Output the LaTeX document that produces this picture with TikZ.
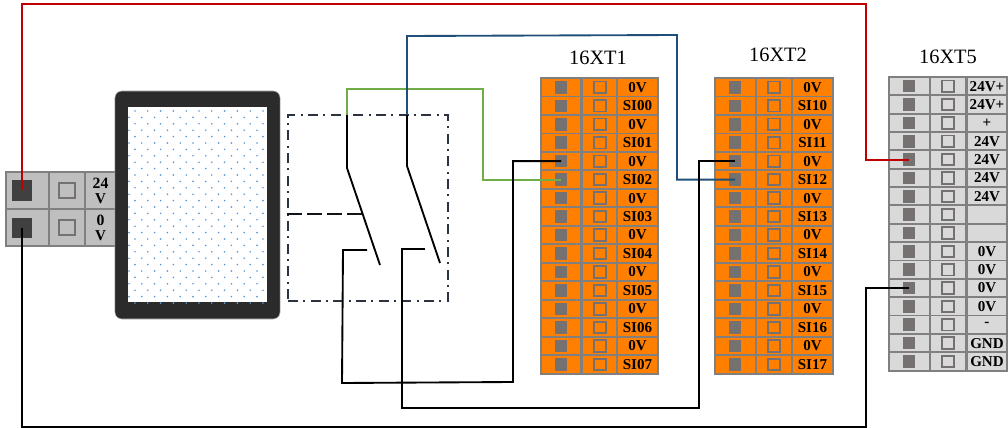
\documentclass[tikz,border=0pt]{standalone}
\usepackage{fontspec}
\setmainfont{Liberation Serif}
\definecolor{termorange}{HTML}{FF8000}
\definecolor{termgrey}{HTML}{D9D9D9}
\definecolor{powergrey}{HTML}{BFBFBF}
\definecolor{gridgrey}{HTML}{808080}
\definecolor{pingrey}{HTML}{767171}
\definecolor{pindark}{HTML}{404040}
\definecolor{framedark}{HTML}{2B2B2B}
\definecolor{dotblue}{HTML}{5B9BD5}
\definecolor{wirered}{HTML}{C00000}
\definecolor{wiregreen}{HTML}{70AD47}
\definecolor{wireblue}{HTML}{1F4E79}
\definecolor{boxdark}{HTML}{2B3340}
\begin{document}
\begin{tikzpicture}[
    x=0.75pt, y=-0.75pt,
    cell/.style={rectangle, draw=gridgrey, line width=1.4pt, inner sep=0pt, minimum height=13.9pt, font=\fontsize{11.3}{11.3}\selectfont\bfseries},
    wide/.style={cell, minimum width=30.4pt},
    narrow/.style={cell, minimum width=27pt},
    pin/.style={rectangle, fill=pingrey, inner sep=0pt, minimum size=9.4pt},
    hole/.style={rectangle, draw=pingrey, line width=1.4pt, inner sep=0pt, minimum size=8.6pt},
    title/.style={font=\fontsize{15.3}{15.3}\selectfont, inner sep=0pt},
    wire/.style={line width=1.4pt, line join=miter},
    swbox/.style={rectangle, draw=boxdark, line width=1.3pt, minimum width=120pt, minimum height=139.5pt, inner sep=0pt, dash pattern=on 7.5pt off 4pt on 1.5pt off 4pt}
]
    \useasboundingbox (0,0) rectangle (1008,428);

    % Power terminal
    \foreach \i/\y/\lab in {1/190.5/24\\V, 2/227.5/0\\V} {
        \node[cell, fill=powergrey, minimum width=32.2pt, minimum height=27.6pt] (pwrcellA\i) at (27.5,\y) {};
        \node[cell, fill=powergrey, minimum width=27pt, minimum height=27.6pt] (pwrcellB\i) at (67,\y) {};
        \node[cell, fill=powergrey, minimum width=23.2pt, minimum height=27.6pt, align=center] (pwrcellC\i) at (100.5,\y) {\fontsize{11.8}{13}\selectfont\bfseries\lab};
        \node[rectangle, fill=pindark, inner sep=0pt, minimum size=15pt] (pwrpin\i) at (22,\y) {};
        \node[hole, minimum size=11.5pt] (pwrhole\i) at (67,\y) {};
    }

    % HMI screen
    \node[rectangle, rounded corners=5pt, fill=framedark, draw=gridgrey!50, minimum width=123.8pt, minimum height=171pt, inner sep=0pt] (hmi) at (197.5,205) {};
    \node[rectangle, fill=white, minimum width=104.2pt, minimum height=146.2pt, inner sep=0pt] (screen) at (197.5,204.5) {};
    \foreach \r in {0,2,...,30}
        \foreach \c in {0,...,10}
            \fill[dotblue] (135+12.8*\c,111+6.4*\r) circle (0.7pt);
    \foreach \r in {1,3,...,29}
        \foreach \c in {0,...,10}
            \fill[dotblue] (129+12.8*\c,111+6.4*\r) circle (0.7pt);

    % Switches
    \node[swbox] (switchbox) at (368,208) {};
    \coordinate (swAtop) at (347,115);
    \coordinate (swBtop) at (407,115);
    \coordinate (swAknee) at (347,168);
    \coordinate (swBknee) at (407,166);
    \coordinate (swAend) at (380,265);
    \coordinate (swBend) at (440,263);
    \coordinate (swAcontact) at (367,250);
    \coordinate (swBcontact) at (425,249);
    \coordinate (swlink) at (362,214);
    \draw[wire] (swAtop) -- (swAknee) -- (swAend);
    \draw[wire] (swBtop) -- (swBknee) -- (swBend);
    \draw[wire, boxdark!40!black, dash pattern=on 11pt off 4pt] (swlink -| switchbox.west) -- (swlink);

    % 16XT1
    \node[title] (xtAtitle) at (598,58) {16XT1};
    \foreach \i/\lab in {0/0V,1/SI00,2/0V,3/SI01,4/0V,5/SI02,6/0V,7/SI03,8/0V,9/SI04,10/0V,11/SI05,12/0V,13/SI06,14/0V,15/SI07} {
        \node[wide, fill=termorange] (xtAcellA\i) at (561,87.3+18.47*\i) {};
        \node[narrow, fill=termorange] (xtAcellB\i) at (600,87.3+18.47*\i) {};
        \node[wide, fill=termorange] (xtAcellC\i) at (637.5,87.3+18.47*\i) {\lab};
        \node[pin] (xtApin\i) at (561,87.3+18.47*\i) {};
        \node[hole] (xtAhole\i) at (600,87.3+18.47*\i) {};
    }

    % 16XT2
    \node[title] (xtBtitle) at (778,54.5) {16XT2};
    \foreach \i/\lab in {0/0V,1/SI10,2/0V,3/SI11,4/0V,5/SI12,6/0V,7/SI13,8/0V,9/SI14,10/0V,11/SI15,12/0V,13/SI16,14/0V,15/SI17} {
        \node[wide, fill=termorange] (xtBcellA\i) at (735.5,87.3+18.47*\i) {};
        \node[narrow, fill=termorange] (xtBcellB\i) at (774,87.3+18.47*\i) {};
        \node[wide, fill=termorange] (xtBcellC\i) at (812.5,87.3+18.47*\i) {\lab};
        \node[pin] (xtBpin\i) at (735,87.3+18.47*\i) {};
        \node[hole] (xtBhole\i) at (774,87.3+18.47*\i) {};
    }

    % 16XT5
    \node[title] (xtCtitle) at (948,57) {16XT5};
    \foreach \i/\lab in {0/24V+,1/24V+,2/+,3/24V,4/24V,5/24V,6/24V,7/,8/,9/0V,10/0V,11/0V,12/0V,13/-,14/GND,15/GND} {
        \node[wide, fill=termgrey] (xtCcellA\i) at (909.5,86.2+18.35*\i) {};
        \node[narrow, fill=termgrey] (xtCcellB\i) at (948,86.2+18.35*\i) {};
        \node[wide, fill=termgrey] (xtCcellC\i) at (987,86.2+18.35*\i) {\lab};
        \node[pin] (xtCpin\i) at (909,86.2+18.35*\i) {};
        \node[hole] (xtChole\i) at (948,86.2+18.35*\i) {};
    }

    % Wires
    \draw[wire, wirered] (pwrpin1.center) -- (22,4) -- (866,4) |- (xtCpin4.center);
    \draw[wire] (pwrpin2.center) -- (22,427) -- (866,427) |- (xtCpin11.center);
    \draw[wire, wiregreen] (swAtop) -- (347,89) -- (483,89) |- (xtApin5.center);
    \draw[wire, wireblue] (swBtop) -- (407,36) -- (677,35) |- (xtBpin5.center);
    \draw[wire] (swAcontact) -- (343,250) -- (342,383) -- (513,382) |- (xtApin4.center);
    \draw[wire] (swBcontact) -- (402,249) -- (402,408) -- (699,408) |- (xtBpin4.center);
\end{tikzpicture}
\end{document}
